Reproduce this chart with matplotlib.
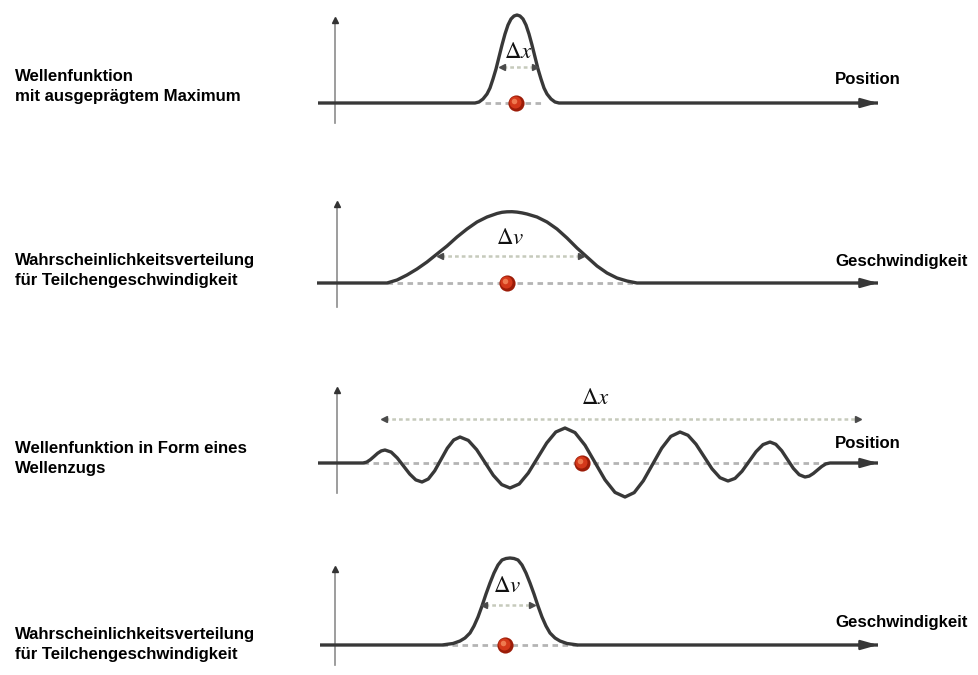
import matplotlib
matplotlib.use("Agg")
import matplotlib.pyplot as plt

plt.rcParams['mathtext.fontset'] = 'stix'

W, H = 979, 675

# ---------------- data (x relative to the vertical axis, y = height above baseline) -------------
# Panel 1: sharply peaked wave function
p1_x = [-17, 140, 144, 148, 152, 155, 158, 161, 164, 167, 170, 173, 176, 179, 182,
        185, 188, 191, 194, 197, 200, 203, 206, 209, 212, 216, 220, 224, 543]
p1_y = [0, 0, 1, 4, 9, 15, 24, 34, 46, 58, 69, 78, 84, 87, 88,
        87, 84, 78, 69, 58, 46, 34, 24, 15, 9, 4, 1, 0, 0]

# Panel 2: broad velocity distribution
p2_x = [-20, 50, 60, 70, 80, 90, 100, 110, 120, 130, 140, 150, 160, 165, 170, 175, 180,
        185, 190, 200, 210, 220, 230, 240, 250, 260, 270, 280, 290, 300, 541]
p2_y = [0, 0, 3, 8, 14, 21, 29, 37, 46, 54, 61, 66, 69.5, 70.7, 71.2, 71.3, 70.9,
        70.1, 69, 66, 61, 54, 45, 35, 26, 17, 10, 5, 2, 0, 0]

# Panel 3: wave train
p3_x = [-19, 26, 29.7, 33.3, 37, 40.7, 44.3,
        48, 54.2, 60.3, 66.5, 72.7, 78.8,
        85, 91.3, 97.7, 104, 110.3, 116.7,
        123, 131.3, 139.7, 148, 156.3, 164.7,
        173, 182.2, 191.3, 200.5, 209.7, 218.8,
        228, 238, 248, 258, 268, 278,
        288, 297.2, 306.3, 315.5, 324.7, 333.8,
        343, 351, 359, 367, 375, 383,
        391, 398, 405, 412, 419, 426,
        433, 438.8, 444.7, 450.5, 456.3, 462.2,
        468, 472.2, 476.3, 480.5, 484.7, 488.8,
        493, 541]
p3_y = [0, 0, 0.9, 3.3, 6.5, 9.8, 12.1,
        13, 10.9, 5, -3, -11, -16.9,
        -19, -16, -7.8, 3.5, 14.8, 23,
        26, 22.6, 13.3, 0.5, -12.3, -21.6,
        -25, -21, -10, 5, 20, 31,
        35, 30.4, 17.8, 0.5, -16.8, -29.4,
        -34, -29.6, -17.8, -1.5, 14.8, 26.6,
        31, 27.7, 18.8, 6.5, -5.8, -14.7,
        -18, -15.4, -8.3, 1.5, 11.3, 18.4,
        21, 18.7, 12.3, 3.5, -5.3, -11.7,
        -14, -13.1, -10.5, -7, -3.5, -0.9,
        0, 0]

# Panel 4: narrow velocity distribution
p4_x = [-15, 107, 118, 125, 130, 135, 139, 143, 147, 151, 155, 159, 163, 167, 171, 175,
        179, 183, 187, 191, 195, 199, 203, 207, 211, 215, 220, 225, 232, 243, 543]
p4_y = [0, 0, 1.5, 4, 7, 12, 19, 28, 39, 51, 62, 72, 80, 85, 86.5, 87,
        86.5, 85, 80, 72, 62, 51, 39, 28, 19, 12, 7, 4, 1.5, 0, 0]

curves_x = [p1_x, p2_x, p3_x, p4_x]
curves_y = [p1_y, p2_y, p3_y, p4_y]

# uncertainty ranges (x0, x1, height) and labels
delta_ranges = [(165, 202, 36), (101, 246, 27), (45, 523, 44), (147, 199, 40)]
delta_labels = [r'$\Delta x$', r'$\Delta v$', r'$\Delta x$', r'$\Delta v$']
delta_label_pos = [(183, 52), (173, 46), (258, 65), (172, 60)]
# dashed baseline ranges and particle positions
dashed_ranges = [(150, 210), (50, 300), (26, 493), (107, 243)]
particle_x = [181, 170, 245, 170]
# vertical axis extents (bottom, top)
vaxis_ranges = [(-20, 85), (-24, 81), (-30, 75), (-20, 78)]

left_labels = [["Wellenfunktion", "mit ausgeprägtem Maximum"],
               ["Wahrscheinlichkeitsverteilung", "für Teilchengeschwindigkeit"],
               ["Wellenfunktion in Form eines", "Wellenzugs"],
               ["Wahrscheinlichkeitsverteilung", "für Teilchengeschwindigkeit"]]
right_labels = ["Position", "Geschwindigkeit", "Position", "Geschwindigkeit"]

# ---------------- layout (pixels) ----------------
axis_px = [335, 337, 337, 335]
baseline_py = [103, 283, 463, 645]
left_label_baselines = [(81, 101), (265, 285), (453, 473), (639, 659)]
right_label_centers = [80, 261, 443, 622]

fig = plt.figure(figsize=(W / 100, H / 100), dpi=100)
fig.patch.set_facecolor('white')

CURVE = '#383838'
FONT = ['Liberation Sans', 'DejaVu Sans']

for i in range(4):
    ax0 = axis_px[i]
    by = baseline_py[i]
    ylo, yhi = -40, 100
    ax = fig.add_axes([300 / W, (H - (by - ylo)) / H, 600 / W, (yhi - ylo) / H])
    ax.set_xlim(300 - ax0, 900 - ax0)
    ax.set_ylim(ylo, yhi)
    ax.axis('off')

    # vertical axis
    vb, vt = vaxis_ranges[i]
    ax.plot([0, 0], [vb, vt - 3], color='#8c8c8c', lw=1.2, clip_on=False, zorder=1)
    ax.plot([0], [vt - 2], marker='^', ms=5, color='#333333', mec='#333333',
            clip_on=False, zorder=2)

    # dashed baseline
    d0, d1 = dashed_ranges[i]
    ax.plot([d0, d1], [0, 0], color='#b4b4b4', lw=2.0, ls=(0, (2.0, 1.6)),
            clip_on=False, zorder=2)

    # curve
    ax.plot(curves_x[i], curves_y[i], color=CURVE, lw=2.4, solid_capstyle='butt',
            solid_joinstyle='round', clip_on=False, zorder=3)
    # arrowhead of the horizontal axis
    xe = curves_x[i][-1]
    ax.annotate('', xy=(xe, 0), xytext=(xe - 20, 0),
                arrowprops=dict(arrowstyle='-|>,head_length=1.0,head_width=0.28',
                                color=CURVE, lw=1.8, shrinkA=0, shrinkB=0),
                annotation_clip=False, zorder=3)

    # uncertainty double arrow
    a0, a1, ah = delta_ranges[i]
    ax.plot([a0 + 3, a1 - 3], [ah, ah], color='#c6cabc', lw=1.8, ls=(0, (1.5, 1.2)),
            clip_on=False, zorder=2)
    ax.plot([a0 + 2], [ah], marker='<', ms=5, color='#4a4a4a', clip_on=False, zorder=4)
    ax.plot([a1 - 2], [ah], marker='>', ms=5, color='#4a4a4a', clip_on=False, zorder=4)
    lx, ly = delta_label_pos[i]
    ax.text(lx, ly, delta_labels[i], fontsize=16.5, ha='center', va='center',
            color='#111111', zorder=5)

    # particle (red ball)
    px = particle_x[i]
    ax.scatter([px], [0], s=135, color='#9c1c08', zorder=6, clip_on=False, lw=0)
    ax.scatter([px - 0.7], [0.9], s=75, color='#d4381a', zorder=7, clip_on=False, lw=0)
    ax.scatter([px - 1.7], [2.2], s=16, color='#ee7a50', zorder=8, clip_on=False, lw=0)

    # texts
    b1, b2 = left_label_baselines[i]
    fig.text(15 / W, 1 - b1 / H, left_labels[i][0], fontsize=12.1, fontweight='bold',
             family=FONT, ha='left', va='baseline', color='black')
    fig.text(15 / W, 1 - b2 / H, left_labels[i][1], fontsize=12.1, fontweight='bold',
             family=FONT, ha='left', va='baseline', color='black')
    fig.text(835 / W, 1 - right_label_centers[i] / H, right_labels[i], fontsize=12.1,
             fontweight='bold', family=FONT, ha='left', va='center', color='black')

fig.savefig('out.png', dpi=100, facecolor='white')
